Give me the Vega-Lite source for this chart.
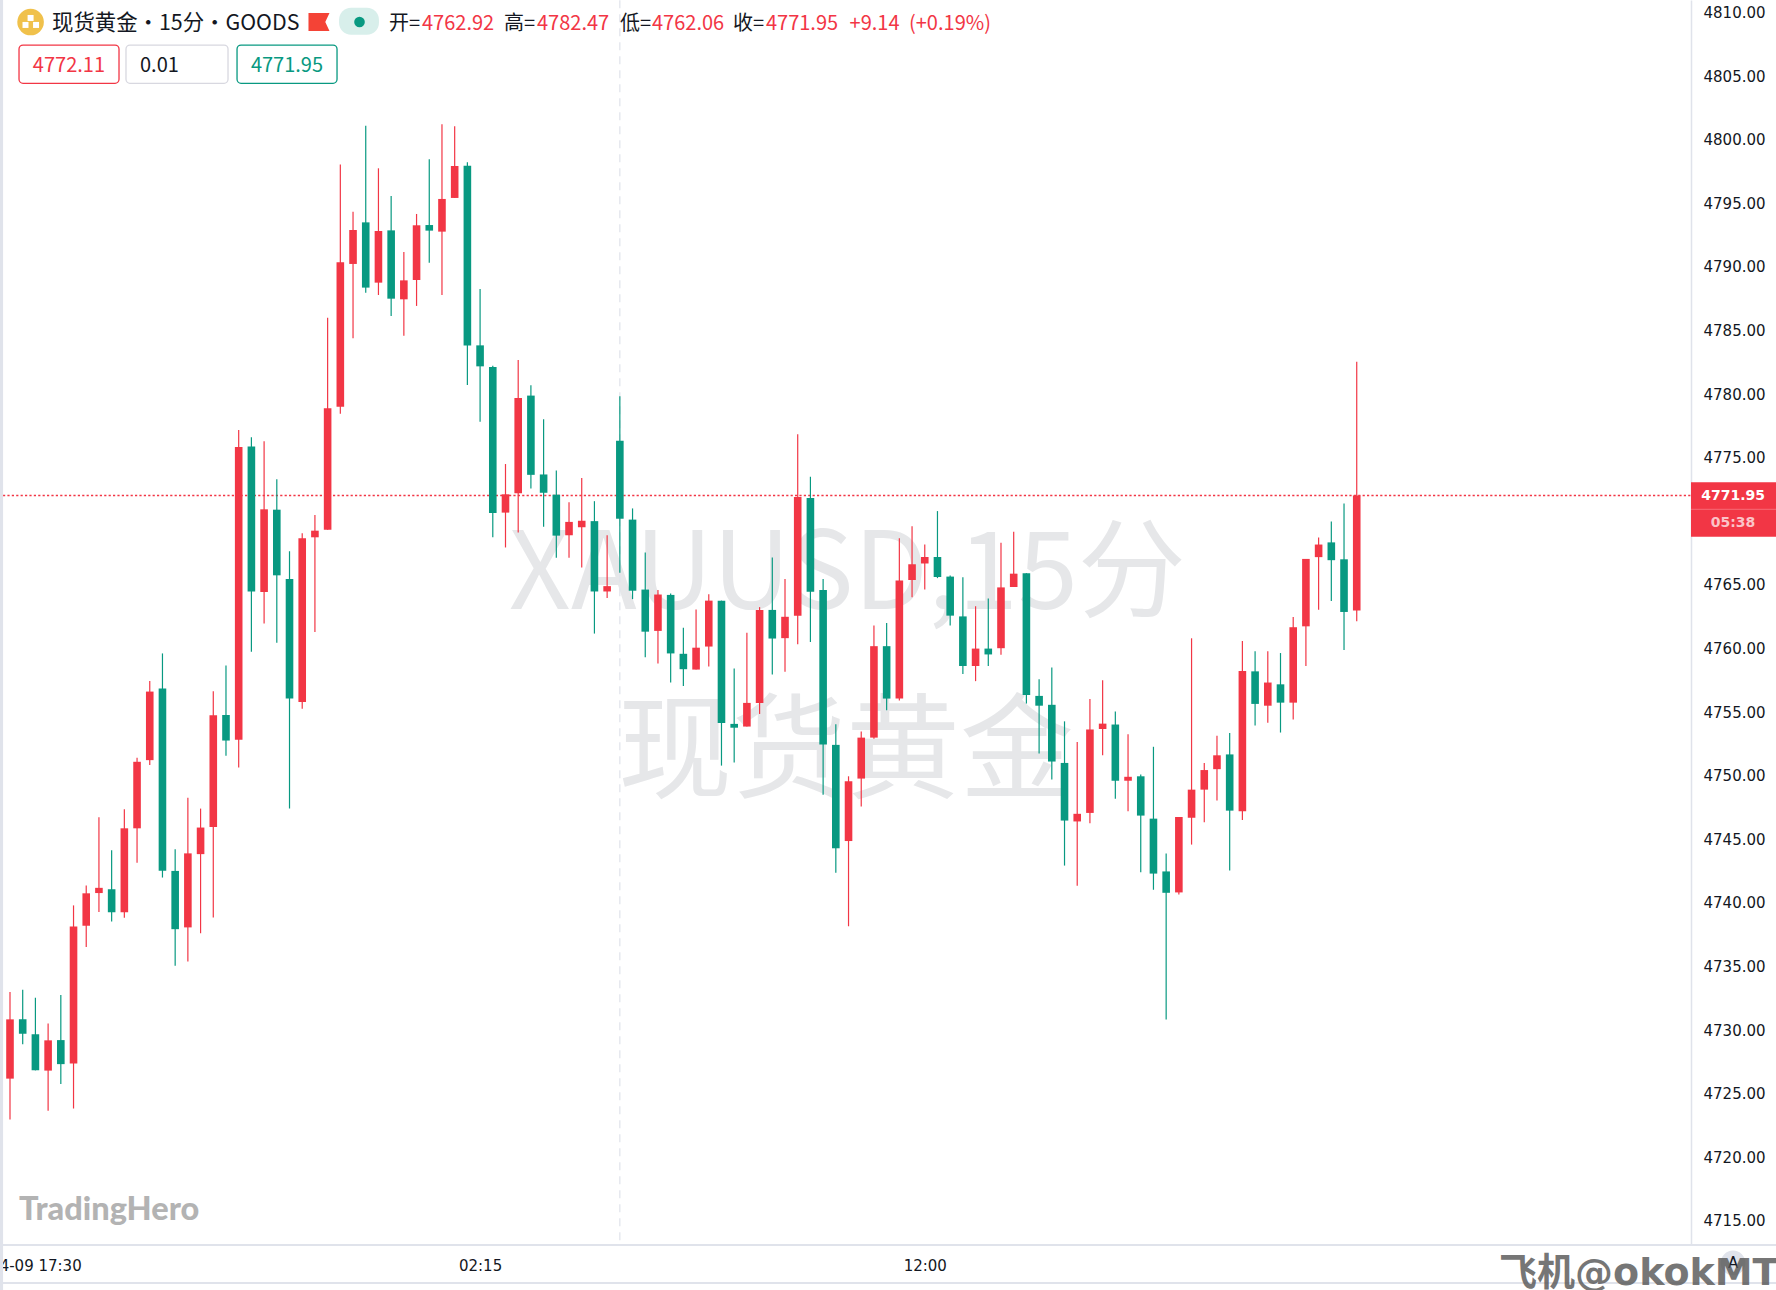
{"$schema":"https://vega.github.io/schema/vega-lite/v6.json","width":1688,"height":1245,"autosize":{"type":"none"},"padding":{"left":3,"top":0,"right":85,"bottom":45},"background":"#ffffff","view":{"stroke":null},
"datasets":{"candles":[
{"bar":0,"time":"04-09 17:00","open":4726.11,"high":4732.93,"low":4722.89,"close":4730.77},
{"bar":1,"time":"04-09 17:15","open":4730.77,"high":4733.10,"low":4728.82,"close":4729.63},
{"bar":2,"time":"04-09 17:30","open":4729.60,"high":4732.47,"low":4726.76,"close":4726.76},
{"bar":3,"time":"04-09 17:45","open":4726.74,"high":4730.44,"low":4723.59,"close":4729.12},
{"bar":4,"time":"04-09 18:00","open":4729.14,"high":4732.69,"low":4725.68,"close":4727.25},
{"bar":5,"time":"04-09 18:15","open":4727.30,"high":4739.73,"low":4723.76,"close":4738.08},
{"bar":6,"time":"04-09 18:30","open":4738.13,"high":4741.30,"low":4736.45,"close":4740.68},
{"bar":7,"time":"04-09 18:45","open":4740.70,"high":4746.66,"low":4739.21,"close":4741.11},
{"bar":8,"time":"04-09 19:00","open":4741.00,"high":4744.06,"low":4738.46,"close":4739.19},
{"bar":9,"time":"04-09 19:15","open":4739.19,"high":4747.28,"low":4738.75,"close":4745.79},
{"bar":10,"time":"04-09 19:30","open":4745.79,"high":4751.34,"low":4743.09,"close":4751.02},
{"bar":11,"time":"04-09 19:45","open":4751.15,"high":4757.38,"low":4750.77,"close":4756.54},
{"bar":12,"time":"04-09 20:00","open":4756.78,"high":4759.54,"low":4741.92,"close":4742.46},
{"bar":13,"time":"04-09 20:15","open":4742.44,"high":4744.14,"low":4734.99,"close":4737.86},
{"bar":14,"time":"04-09 20:30","open":4738.00,"high":4748.20,"low":4735.32,"close":4743.82},
{"bar":15,"time":"04-09 20:45","open":4743.76,"high":4747.34,"low":4737.54,"close":4745.85},
{"bar":16,"time":"04-09 21:00","open":4745.90,"high":4756.57,"low":4738.78,"close":4754.67},
{"bar":17,"time":"04-09 21:15","open":4754.70,"high":4758.60,"low":4751.50,"close":4752.69},
{"bar":18,"time":"04-09 21:30","open":4752.75,"high":4777.11,"low":4750.58,"close":4775.77},
{"bar":19,"time":"04-09 21:45","open":4775.80,"high":4776.53,"low":4759.68,"close":4764.40},
{"bar":20,"time":"04-09 22:00","open":4764.37,"high":4776.22,"low":4761.90,"close":4770.87},
{"bar":21,"time":"04-09 22:15","open":4770.84,"high":4773.23,"low":4760.38,"close":4765.68},
{"bar":22,"time":"04-09 22:30","open":4765.39,"high":4767.57,"low":4747.34,"close":4756.00},
{"bar":23,"time":"04-09 22:45","open":4755.73,"high":4768.98,"low":4755.19,"close":4768.59},
{"bar":24,"time":"04-09 23:00","open":4768.67,"high":4770.42,"low":4761.22,"close":4769.19},
{"bar":25,"time":"04-09 23:15","open":4769.27,"high":4785.94,"low":4769.27,"close":4778.81},
{"bar":26,"time":"04-09 23:30","open":4778.94,"high":4797.97,"low":4778.39,"close":4790.29},
{"bar":27,"time":"04-09 23:45","open":4790.16,"high":4794.27,"low":4784.31,"close":4792.83},
{"bar":28,"time":"04-10 00:00","open":4793.43,"high":4801.03,"low":4787.90,"close":4788.30},
{"bar":29,"time":"04-10 00:15","open":4788.69,"high":4797.68,"low":4787.72,"close":4792.75},
{"bar":30,"time":"04-10 00:30","open":4792.80,"high":4795.50,"low":4786.07,"close":4787.43},
{"bar":31,"time":"04-10 00:45","open":4787.38,"high":4791.10,"low":4784.52,"close":4788.87},
{"bar":32,"time":"04-10 01:00","open":4788.90,"high":4794.09,"low":4786.86,"close":4793.20},
{"bar":33,"time":"04-10 01:15","open":4793.22,"high":4798.39,"low":4790.26,"close":4792.78},
{"bar":34,"time":"04-10 01:30","open":4792.70,"high":4801.14,"low":4787.72,"close":4795.27},
{"bar":35,"time":"04-10 01:45","open":4795.35,"high":4800.98,"low":4795.35,"close":4797.86},
{"bar":36,"time":"04-10 02:00","open":4797.89,"high":4798.15,"low":4780.64,"close":4783.74},
{"bar":37,"time":"04-10 02:15","open":4783.76,"high":4788.19,"low":4777.76,"close":4782.11},
{"bar":38,"time":"04-10 02:30","open":4782.06,"high":4782.16,"low":4768.67,"close":4770.58},
{"bar":39,"time":"04-10 02:45","open":4770.61,"high":4774.43,"low":4767.87,"close":4772.05},
{"bar":40,"time":"04-10 03:00","open":4772.14,"high":4782.61,"low":4769.04,"close":4779.63},
{"bar":41,"time":"04-10 03:15","open":4779.81,"high":4780.62,"low":4772.50,"close":4773.58},
{"bar":42,"time":"04-10 03:30","open":4773.61,"high":4777.95,"low":4769.49,"close":4772.17},
{"bar":43,"time":"04-10 03:45","open":4772.02,"high":4773.92,"low":4767.06,"close":4768.80},
{"bar":44,"time":"04-10 04:00","open":4768.83,"high":4771.42,"low":4767.06,"close":4769.88},
{"bar":45,"time":"04-10 04:15","open":4769.46,"high":4773.34,"low":4766.30,"close":4769.97},
{"bar":46,"time":"04-10 04:30","open":4769.94,"high":4771.51,"low":4761.10,"close":4764.41},
{"bar":47,"time":"04-10 04:45","open":4764.41,"high":4768.83,"low":4763.90,"close":4764.83},
{"bar":48,"time":"04-10 05:00","open":4776.26,"high":4779.75,"low":4765.88,"close":4770.13},
{"bar":49,"time":"04-10 06:15","open":4770.06,"high":4770.94,"low":4763.81,"close":4764.47},
{"bar":50,"time":"04-10 06:30","open":4764.56,"high":4767.48,"low":4759.23,"close":4761.25},
{"bar":51,"time":"04-10 06:45","open":4761.31,"high":4764.53,"low":4758.75,"close":4764.17},
{"bar":52,"time":"04-10 07:00","open":4764.14,"high":4764.26,"low":4757.25,"close":4759.54},
{"bar":53,"time":"04-10 07:15","open":4759.51,"high":4761.55,"low":4756.98,"close":4758.30},
{"bar":54,"time":"04-10 07:30","open":4758.27,"high":4763.00,"low":4758.27,"close":4759.99},
{"bar":55,"time":"04-10 07:45","open":4760.08,"high":4764.20,"low":4758.51,"close":4763.69},
{"bar":56,"time":"04-10 08:00","open":4763.69,"high":4763.69,"low":4750.72,"close":4754.06},
{"bar":57,"time":"04-10 08:15","open":4754.00,"high":4758.36,"low":4750.96,"close":4753.70},
{"bar":58,"time":"04-10 08:30","open":4753.79,"high":4761.16,"low":4753.79,"close":4755.65},
{"bar":59,"time":"04-10 08:45","open":4755.65,"high":4763.18,"low":4754.78,"close":4762.96},
{"bar":60,"time":"04-10 09:00","open":4762.96,"high":4767.09,"low":4757.88,"close":4760.71},
{"bar":61,"time":"04-10 09:15","open":4760.74,"high":4765.40,"low":4758.09,"close":4762.42},
{"bar":62,"time":"04-10 09:30","open":4762.51,"high":4776.77,"low":4760.26,"close":4771.84},
{"bar":63,"time":"04-10 09:45","open":4771.75,"high":4773.43,"low":4760.44,"close":4764.38},
{"bar":64,"time":"04-10 10:00","open":4764.53,"high":4765.40,"low":4748.43,"close":4752.38},
{"bar":65,"time":"04-10 10:15","open":4752.35,"high":4753.97,"low":4742.30,"close":4744.22},
{"bar":66,"time":"04-10 10:30","open":4744.79,"high":4749.88,"low":4738.09,"close":4749.49},
{"bar":67,"time":"04-10 10:45","open":4749.70,"high":4753.40,"low":4747.50,"close":4752.92},
{"bar":68,"time":"04-10 11:00","open":4752.92,"high":4761.73,"low":4752.83,"close":4760.11},
{"bar":69,"time":"04-10 11:15","open":4760.11,"high":4761.94,"low":4755.08,"close":4755.99},
{"bar":70,"time":"04-10 11:30","open":4755.99,"high":4768.59,"low":4755.83,"close":4765.28},
{"bar":71,"time":"04-10 11:45","open":4765.31,"high":4769.54,"low":4763.96,"close":4766.55},
{"bar":72,"time":"04-10 12:00","open":4766.61,"high":4768.11,"low":4764.56,"close":4767.12},
{"bar":73,"time":"04-10 12:15","open":4767.12,"high":4770.73,"low":4765.46,"close":4765.55},
{"bar":74,"time":"04-10 12:30","open":4765.58,"high":4765.67,"low":4761.73,"close":4762.51},
{"bar":75,"time":"04-10 12:45","open":4762.45,"high":4765.53,"low":4757.92,"close":4758.55},
{"bar":76,"time":"04-10 13:00","open":4758.55,"high":4763.25,"low":4757.36,"close":4759.92},
{"bar":77,"time":"04-10 13:15","open":4759.92,"high":4763.85,"low":4758.55,"close":4759.46},
{"bar":78,"time":"04-10 13:30","open":4759.95,"high":4768.24,"low":4759.43,"close":4764.73},
{"bar":79,"time":"04-10 13:45","open":4764.76,"high":4769.11,"low":4764.76,"close":4765.81},
{"bar":80,"time":"04-10 14:00","open":4765.85,"high":4765.85,"low":4755.60,"close":4756.27},
{"bar":81,"time":"04-10 14:15","open":4756.20,"high":4757.50,"low":4751.67,"close":4755.43},
{"bar":82,"time":"04-10 14:30","open":4755.50,"high":4758.44,"low":4749.63,"close":4751.04},
{"bar":83,"time":"04-10 14:45","open":4750.93,"high":4754.20,"low":4742.86,"close":4746.40},
{"bar":84,"time":"04-10 15:00","open":4746.33,"high":4752.58,"low":4741.28,"close":4746.93},
{"bar":85,"time":"04-10 15:15","open":4747.00,"high":4755.95,"low":4746.19,"close":4753.56},
{"bar":86,"time":"04-10 15:30","open":4753.60,"high":4757.43,"low":4751.53,"close":4754.02},
{"bar":87,"time":"04-10 15:45","open":4753.95,"high":4754.97,"low":4748.12,"close":4749.53},
{"bar":88,"time":"04-10 16:00","open":4749.53,"high":4753.18,"low":4747.14,"close":4749.84},
{"bar":89,"time":"04-10 16:15","open":4749.88,"high":4750.02,"low":4742.33,"close":4746.79},
{"bar":90,"time":"04-10 16:30","open":4746.55,"high":4752.20,"low":4740.96,"close":4742.23},
{"bar":91,"time":"04-10 16:45","open":4742.40,"high":4743.81,"low":4730.75,"close":4740.72},
{"bar":92,"time":"04-10 17:00","open":4740.75,"high":4746.68,"low":4740.58,"close":4746.68},
{"bar":93,"time":"04-10 17:15","open":4746.62,"high":4760.73,"low":4744.51,"close":4748.83},
{"bar":94,"time":"04-10 17:30","open":4748.83,"high":4750.93,"low":4746.26,"close":4750.37},
{"bar":95,"time":"04-10 17:45","open":4750.44,"high":4753.07,"low":4747.98,"close":4751.53},
{"bar":96,"time":"04-10 18:00","open":4751.60,"high":4753.28,"low":4742.47,"close":4747.18},
{"bar":97,"time":"04-10 18:15","open":4747.14,"high":4760.51,"low":4746.44,"close":4758.16},
{"bar":98,"time":"04-10 18:30","open":4758.13,"high":4759.71,"low":4753.88,"close":4755.57},
{"bar":99,"time":"04-10 18:45","open":4755.43,"high":4759.71,"low":4754.09,"close":4757.25},
{"bar":100,"time":"04-10 19:00","open":4757.11,"high":4759.57,"low":4753.32,"close":4755.67},
{"bar":101,"time":"04-10 19:15","open":4755.67,"high":4762.41,"low":4754.34,"close":4761.60},
{"bar":102,"time":"04-10 19:30","open":4761.67,"high":4766.97,"low":4758.55,"close":4766.97},
{"bar":103,"time":"04-10 19:45","open":4767.11,"high":4768.66,"low":4762.97,"close":4768.10},
{"bar":104,"time":"04-10 20:00","open":4768.27,"high":4769.92,"low":4763.67,"close":4766.87},
{"bar":105,"time":"04-10 20:15","open":4766.94,"high":4771.33,"low":4759.81,"close":4762.80},
{"bar":106,"time":"04-10 20:30","open":4762.92,"high":4782.47,"low":4762.06,"close":4771.95}
]},
"encoding":{
"x":{"field":"bar","type":"quantitative","title":null,"scale":{"domain":[-0.551,132.31],"nice":false,"zero":false,"padding":0},"axis":{"orient":"bottom","values":[2,37,72],"labelExpr":"datum.value==2?'04-09 17:30':datum.value==37?'02:15':'12:00'","labelFont":"DejaVu Sans","labelFontSize":15,"labelColor":"#131722","labelPadding":13,"labelBound":false,"labelFlush":false,"labelOverlap":false,"ticks":false,"domain":false,"grid":false,"zindex":0}},
"y":{"field":"price","type":"quantitative","title":null,"scale":{"domain":[4713.03,4810.912],"nice":false,"zero":false},"axis":{"orient":"right","values":[4715,4720,4725,4730,4735,4740,4745,4750,4755,4760,4765,4770,4775,4780,4785,4790,4795,4800,4805,4810],"format":".2f","labelFont":"DejaVu Sans","labelFontSize":15,"labelColor":"#131722","labelPadding":12,"labelOffset":1,"labelBound":false,"labelFlush":false,"labelOverlap":false,"ticks":false,"domain":true,"domainColor":"#e0e3eb","domainWidth":1.5,"grid":false,"zindex":0}}
},
"layer":[
{"data":{"values":[{"bar":65.9,"price":4763.03,"label":"XAUUSD,15分"}]},"mark":{"type":"text","font":"Noto Sans CJK SC","fontSize":108,"align":"center","baseline":"alphabetic","color":"#e6e7e9"},"encoding":{"text":{"field":"label"}}},
{"data":{"values":[{"bar":65.8,"price":4748.88,"label":"现货黄金"}]},"mark":{"type":"text","font":"Noto Sans CJK SC","fontSize":114,"align":"center","baseline":"alphabetic","color":"#e6e7e9"},"encoding":{"text":{"field":"label"}}},
{"data":{"values":[{"bar":48,"price":4810.9,"price2":4713.03}]},"mark":{"type":"rule","color":"#e0e3eb","strokeDash":[8,6],"strokeWidth":1.2},"encoding":{"y2":{"field":"price2"}}},
{"data":{"values":[{"bar":-0.551,"bar2":132.31,"price":4771.95}]},"mark":{"type":"rule","color":"#f23645","strokeDash":[2.2,2.2],"strokeWidth":1.6},"encoding":{"x2":{"field":"bar2"}}},
{"data":{"name":"candles"},"mark":{"type":"rule","strokeWidth":1.2},"encoding":{"y":{"field":"high","type":"quantitative","title":null},"y2":{"field":"low"},"color":{"condition":{"test":"datum.close>=datum.open","value":"#f23645"},"value":"#089981"}}},
{"data":{"name":"candles"},"mark":{"type":"bar","size":7.6},"encoding":{"y":{"field":"open","type":"quantitative","title":null},"y2":{"field":"close"},"color":{"condition":{"test":"datum.close>=datum.open","value":"#f23645"},"value":"#089981"}}},
{"data":{"values":[{"bar":132.31,"bar2":139.1,"price":4713.03},{"bar":-0.551,"bar2":139.1,"price":4710.05}]},"mark":{"type":"rule","color":"#e0e3eb","strokeWidth":2,"clip":false},"encoding":{"x2":{"field":"bar2"}}},
{"data":{"values":[{"bar":-0.551,"bar2":132.31,"price":4713.03}]},"mark":{"type":"rule","color":"#e0e3eb","strokeWidth":2},"encoding":{"x2":{"field":"bar2"}}},
{"data":{"values":[{"bar":-0.67,"price":4811,"price2":4709.5}]},"mark":{"type":"rule","color":"#e0e3eb","strokeWidth":3.2},"encoding":{"y2":{"field":"price2"}}},
{"data":{"values":[{"bar":132.31,"bar2":139.1,"price":4772.99,"price2":4768.72}]},"mark":{"type":"rect","color":"#f23645"},"encoding":{"x2":{"field":"bar2"},"y2":{"field":"price2"}}},
{"data":{"values":[{"bar":132.31,"bar2":139.1,"price":4770.87}]},"mark":{"type":"rule","color":"#f76b76","strokeWidth":1},"encoding":{"x2":{"field":"bar2"}}},
{"data":{"values":[{"bar":135.62,"price":4771.9,"label":"4771.95"}]},"mark":{"type":"text","font":"DejaVu Sans","fontSize":14,"fontWeight":"bold","align":"center","baseline":"middle","color":"#ffffff"},"encoding":{"text":{"field":"label"}}},
{"data":{"values":[{"bar":135.62,"price":4769.78,"label":"05:38"}]},"mark":{"type":"text","font":"DejaVu Sans","fontSize":14,"fontWeight":"bold","align":"center","baseline":"middle","color":"#fbc3c8"},"encoding":{"text":{"field":"label"}}},
{"data":{"values":[{"bar":1.62,"price":4809.18}]},"mark":{"type":"point","shape":"circle","filled":true,"opacity":1,"size":707,"color":"#f0c14b"}},
{"data":{"values":[{"bar":1.62,"price":4809.5},{"bar":1.22,"price":4808.95},{"bar":2.05,"price":4808.95}]},"mark":{"type":"point","shape":"square","filled":true,"opacity":1,"size":36,"color":"#ffffff"}},
{"data":{"values":[{"bar":3.307,"price":4809.06,"label":"现货黄金・15分・GOODS"}]},"mark":{"type":"text","font":"Noto Sans CJK SC","fontSize":21.4,"align":"left","baseline":"middle","color":"#131722"},"encoding":{"text":{"field":"label"}}},
{"data":{"values":[{"bar":24.32,"price":4809.18}]},"mark":{"type":"point","shape":"M-1,-0.85L1,-0.85L0.6,0L1,0.85L-1,0.85Z","filled":true,"opacity":1,"size":441,"color":"#f44336"}},
{"data":{"values":[{"bar":25.9,"bar2":29.04,"price":4810.3,"price2":4808.18}]},"mark":{"type":"rect","color":"#d8efeb","cornerRadius":12},"encoding":{"x2":{"field":"bar2"},"y2":{"field":"price2"}}},
{"data":{"values":[{"bar":27.51,"price":4809.18}]},"mark":{"type":"point","shape":"circle","filled":true,"opacity":1,"size":113,"color":"#089981"}},
{"data":{"values":[{"bar":29.83,"price":4809.06,"label":"开="},{"bar":38.88,"price":4809.06,"label":"高="},{"bar":48.01,"price":4809.06,"label":"低="},{"bar":56.91,"price":4809.06,"label":"收="}]},"mark":{"type":"text","font":"Noto Sans CJK SC","fontSize":20,"align":"left","baseline":"middle","color":"#131722"},"encoding":{"text":{"field":"label"}}},
{"data":{"values":[{"bar":32.43,"price":4809.06,"label":"4762.92"},{"bar":41.48,"price":4809.06,"label":"4782.47"},{"bar":50.53,"price":4809.06,"label":"4762.06"},{"bar":59.5,"price":4809.06,"label":"4771.95"},{"bar":66.08,"price":4809.06,"label":"+9.14"},{"bar":70.76,"price":4809.06,"label":"(+0.19%)"}]},"mark":{"type":"text","font":"Noto Sans CJK SC","fontSize":20,"align":"left","baseline":"middle","color":"#f23645"},"encoding":{"text":{"field":"label"}}},
{"data":{"values":[{"bar":0.71,"bar2":8.58,"price":4807.37,"price2":4804.36}]},"mark":{"type":"rect","fill":"#ffffff","stroke":"#f23645","strokeWidth":1.3,"cornerRadius":4},"encoding":{"x2":{"field":"bar2"},"y2":{"field":"price2"}}},
{"data":{"values":[{"bar":9.13,"bar2":17.16,"price":4807.37,"price2":4804.36}]},"mark":{"type":"rect","fill":"#ffffff","stroke":"#d8d8e0","strokeWidth":1.3,"cornerRadius":4},"encoding":{"x2":{"field":"bar2"},"y2":{"field":"price2"}}},
{"data":{"values":[{"bar":17.87,"bar2":25.74,"price":4807.37,"price2":4804.36}]},"mark":{"type":"rect","fill":"#ffffff","stroke":"#089981","strokeWidth":1.3,"cornerRadius":4},"encoding":{"x2":{"field":"bar2"},"y2":{"field":"price2"}}},
{"data":{"values":[{"bar":4.64,"price":4805.72,"label":"4772.11"}]},"mark":{"type":"text","font":"Noto Sans CJK SC","fontSize":20,"align":"center","baseline":"middle","color":"#f23645"},"encoding":{"text":{"field":"label"}}},
{"data":{"values":[{"bar":10.23,"price":4805.72,"label":"0.01"}]},"mark":{"type":"text","font":"Noto Sans CJK SC","fontSize":20,"align":"left","baseline":"middle","color":"#131722"},"encoding":{"text":{"field":"label"}}},
{"data":{"values":[{"bar":21.8,"price":4805.72,"label":"4771.95"}]},"mark":{"type":"text","font":"Noto Sans CJK SC","fontSize":20,"align":"center","baseline":"middle","color":"#089981"},"encoding":{"text":{"field":"label"}}},
{"data":{"values":[{"bar":0.71,"price":4715.0,"label":"TradingHero"}]},"mark":{"type":"text","font":"Lato","fontSize":32.5,"fontWeight":900,"align":"left","baseline":"alphabetic","color":"#b3b3b3"},"encoding":{"text":{"field":"label"}}},
{"data":{"values":[{"bar":135.62,"price":4711.62}]},"mark":{"type":"point","shape":"circle","filled":true,"opacity":1,"size":616,"color":"#e0e3eb","clip":false}},
{"data":{"values":[{"bar":135.62,"price":4711.62,"label":"A"}]},"mark":{"type":"text","font":"DejaVu Sans","fontSize":15,"align":"center","baseline":"middle","color":"#131722"},"encoding":{"text":{"field":"label"}}},
{"data":{"values":[{"bar":117.2,"price":4709.89,"label":"飞机@okokMT"}]},"mark":{"type":"text","font":"DejaVu Sans, Noto Sans CJK SC","fontSize":38,"fontWeight":"bold","align":"left","baseline":"alphabetic","color":"#555555","opacity":0.8},"encoding":{"text":{"field":"label"}}}
]}
